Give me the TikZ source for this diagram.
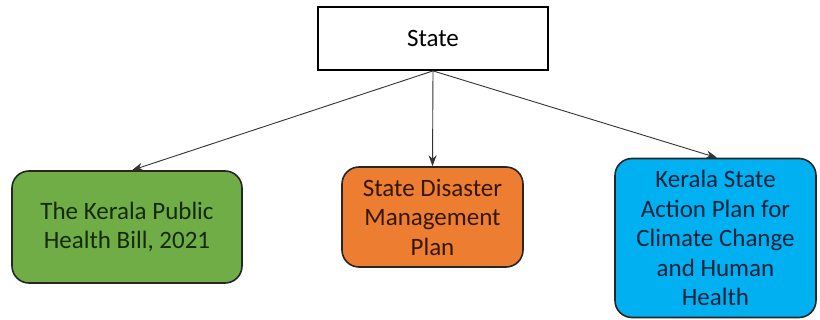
\documentclass[tikz,border=0pt]{standalone}
\usepackage{fontspec}
\setmainfont{Carlito}
\usetikzlibrary{arrows.meta}
\definecolor{boxgreen}{HTML}{70AD47}
\definecolor{boxorange}{HTML}{ED7D31}
\definecolor{boxblue}{HTML}{00B0F0}
\definecolor{txtgreen}{HTML}{142A0A}
\definecolor{txtorange}{HTML}{331806}
\definecolor{txtblue}{HTML}{08233C}
\tikzset{
  lbl/.style={font=\fontsize{25}{29.5}\selectfont, align=center, inner sep=0pt},
  topbox/.style={lbl, draw=black, line width=1.8pt, fill=white,
    minimum width=230pt, minimum height=63pt},
  leafbox/.style={lbl, draw=black!85, line width=1.6pt, rounded corners=17pt},
  link/.style={draw=black!80, line width=0.9pt, -{Stealth[length=11pt,width=8pt]}}
}
\begin{document}
\begin{tikzpicture}[x=1pt,y=-1pt]
  \useasboundingbox (0,0) rectangle (820,320);
  \node[topbox] (state) at (433,38.5) {State};
  \node[leafbox, fill=boxgreen, text=txtgreen, minimum width=230pt, minimum height=112pt]
    (bill) at (127,227) {The Kerala Public\\Health Bill, 2021};
  \node[leafbox, fill=boxorange, text=txtorange, minimum width=181pt, minimum height=100pt]
    (sdmp) at (432.5,217) {State Disaster\\Management\\Plan};
  \node[leafbox, fill=boxblue, text=txtblue, minimum width=201pt, minimum height=159pt]
    (ksap) at (715.5,238) {Kerala State\\Action Plan for\\Climate Change\\and Human\\Health};
  \draw[link] (state.south) -- ([xshift=5pt]bill.north);
  \draw[link] (state.south) -- (sdmp.north);
  \draw[link] (state.south) -- ([xshift=1.5pt]ksap.north);
\end{tikzpicture}
\end{document}
